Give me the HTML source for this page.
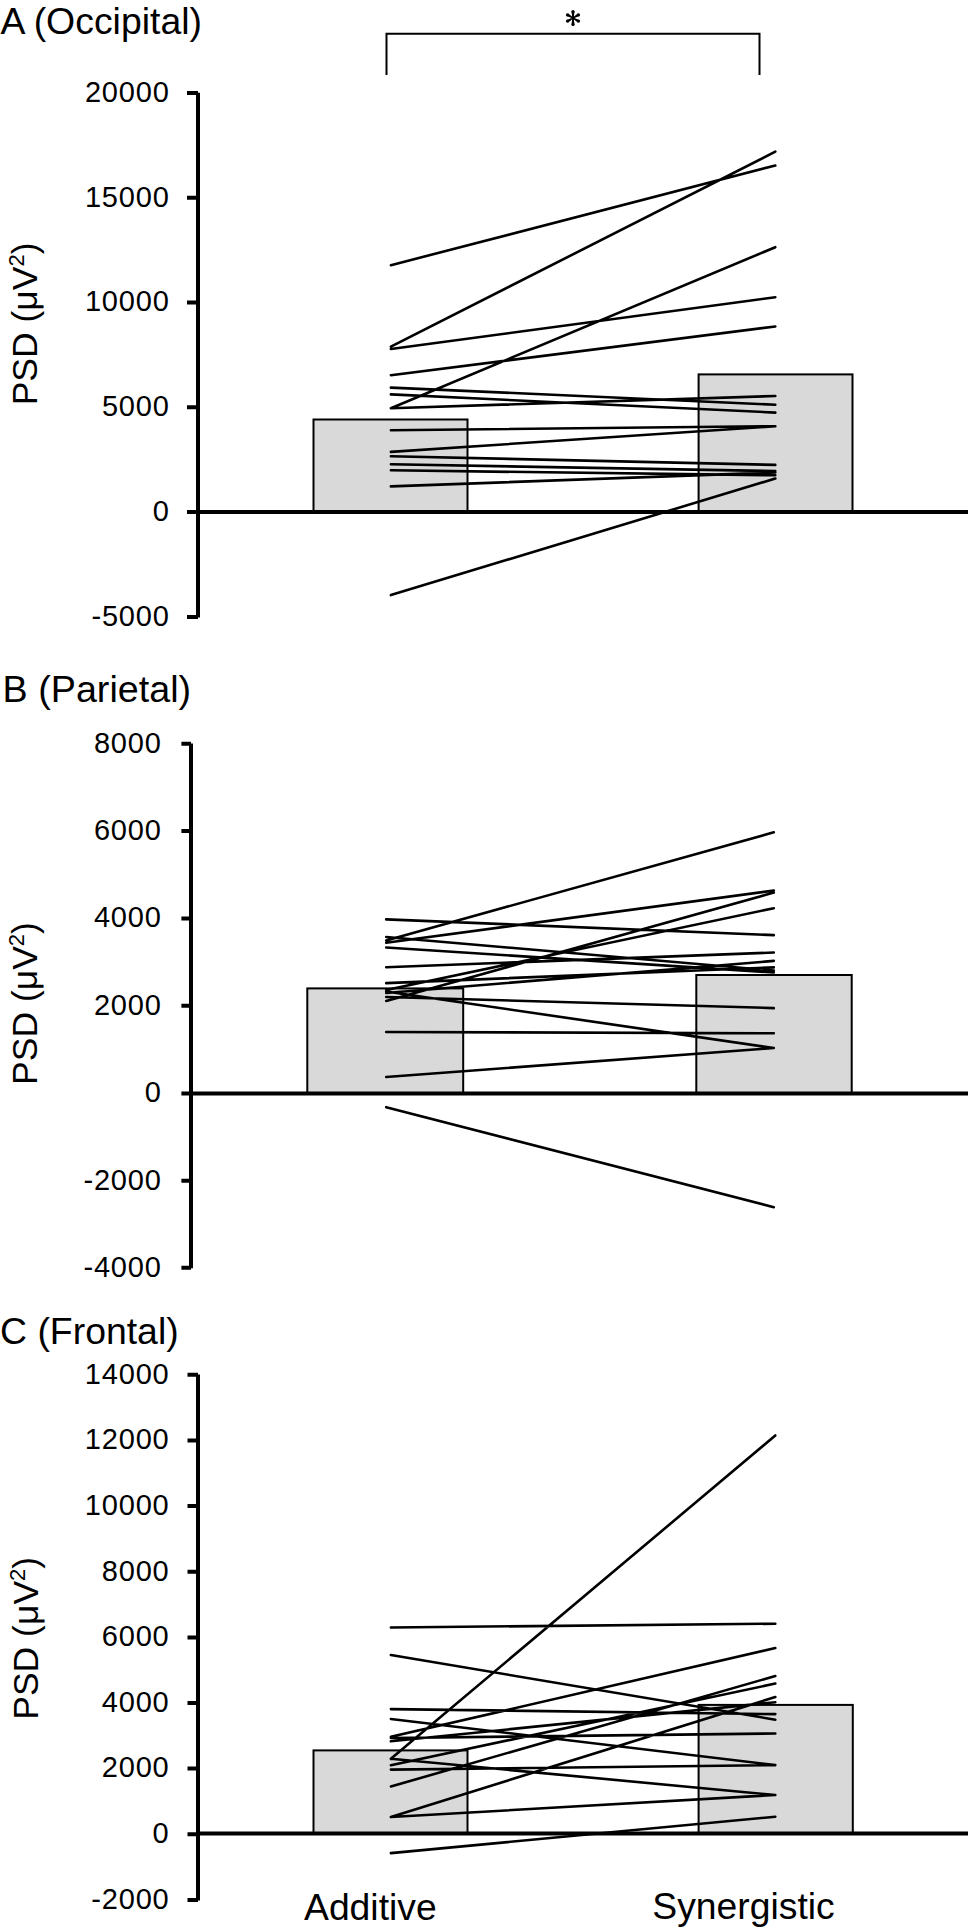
<!DOCTYPE html>
<html><head><meta charset="utf-8"><title>PSD chart</title>
<style>
html,body{margin:0;padding:0;background:#fff;}
body{width:969px;height:1932px;overflow:hidden;}
svg{display:block;}
text{font-family:"Liberation Sans",sans-serif;fill:#000;}
.t{font-size:37.3px;}
.tk{font-size:29px;letter-spacing:0.8px;}
.yt{font-size:35.5px;}
</style></head><body>
<svg width="969" height="1932" viewBox="0 0 969 1932">

<g>
<text class="t" x="0.4" y="34.3" style="font-size:37.4px">A (Occipital)</text>
<rect x="313.5" y="419.5" width="154" height="92.6" fill="#d9d9d9" stroke="#000" stroke-width="2"/>
<rect x="698.6" y="374.4" width="153.9" height="137.7" fill="#d9d9d9" stroke="#000" stroke-width="2"/>
<path d="M390.9 265.2L775.3 165.5M390.9 346.7L775.3 151.7M390.9 349L775.3 297.2M390.9 375.2L775.3 326.5M390.9 408.2L775.3 247.2M390.9 387.6L775.3 404.7M390.9 394.4L775.3 412.6M390.9 408.2L775.3 396M390.9 430.2L775.3 426.2M390.9 451.9L775.3 426.2M390.9 456.2L775.3 464.9M390.9 464.3L775.3 471.1M390.9 470.3L775.3 475.3M390.9 486.4L775.3 472.5M390.9 595.1L775.3 478.5" stroke="#000" stroke-width="2.6" stroke-linecap="round" fill="none"/>
<path d="M198 92.7V617.4" stroke="#000" stroke-width="4" fill="none"/>
<path d="M187 92.9H198M187 197.7H198M187 302.5H198M187 407.3H198M187 512.1H198M187 616.9H198" stroke="#000" stroke-width="4" fill="none"/>
<path d="M198 512.1H968" stroke="#000" stroke-width="4" fill="none"/>
<text class="tk" x="169.6" y="101.7" text-anchor="end">20000</text>
<text class="tk" x="169.6" y="206.5" text-anchor="end">15000</text>
<text class="tk" x="169.6" y="311.3" text-anchor="end">10000</text>
<text class="tk" x="169.6" y="416.1" text-anchor="end">5000</text>
<text class="tk" x="169.6" y="520.9" text-anchor="end">0</text>
<text class="tk" x="169.6" y="625.7" text-anchor="end">-5000</text>
<text class="yt" transform="translate(36.8 323.9) rotate(-90)" text-anchor="middle">PSD (&#956;V<tspan font-size="22" dy="-13">2</tspan><tspan dy="13">)</tspan></text>
</g>
<g>
<text class="t" x="2.6" y="701.9" style="font-size:37.7px">B (Parietal)</text>
<rect x="307.3" y="988.4" width="155.9" height="105.1" fill="#d9d9d9" stroke="#000" stroke-width="2"/>
<rect x="696.3" y="975" width="155.4" height="118.5" fill="#d9d9d9" stroke="#000" stroke-width="2"/>
<path d="M386.2 919.4L773.8 935.1M386.2 937L773.8 970.6M386.2 940.5L773.8 832.3M386.2 942.8L773.8 890.5M386.2 947.5L773.8 972.5M386.2 967.2L773.8 952.5M386.2 983.1L773.8 967.4M386.2 990L773.8 908.2M386.2 991.5L773.8 1048M386.2 993L773.8 960.9M386.2 997L773.8 1008.1M386.2 1001L773.8 892.6M386.2 1032L773.8 1033.3M386.2 1077L773.8 1048M386.2 1107.2L773.8 1207.2" stroke="#000" stroke-width="2.6" stroke-linecap="round" fill="none"/>
<path d="M191 743.6V1268.3" stroke="#000" stroke-width="4" fill="none"/>
<path d="M181.4 743.8H191M181.4 831.1H191M181.4 918.5H191M181.4 1005.8H191M181.4 1093.5H191M181.4 1180.7H191M181.4 1267.8H191" stroke="#000" stroke-width="4" fill="none"/>
<path d="M191 1093.5H968" stroke="#000" stroke-width="4" fill="none"/>
<text class="tk" x="161.6" y="752.6" text-anchor="end">8000</text>
<text class="tk" x="161.6" y="839.9" text-anchor="end">6000</text>
<text class="tk" x="161.6" y="927.3" text-anchor="end">4000</text>
<text class="tk" x="161.6" y="1014.6" text-anchor="end">2000</text>
<text class="tk" x="161.6" y="1102.3" text-anchor="end">0</text>
<text class="tk" x="161.6" y="1189.5" text-anchor="end">-2000</text>
<text class="tk" x="161.6" y="1276.6" text-anchor="end">-4000</text>
<text class="yt" transform="translate(36.7 1003.5) rotate(-90)" text-anchor="middle">PSD (&#956;V<tspan font-size="22" dy="-13">2</tspan><tspan dy="13">)</tspan></text>
</g>
<g>
<text class="t" x="0" y="1344.1" style="font-size:37.4px">C (Frontal)</text>
<rect x="313.5" y="1750.4" width="154" height="83.1" fill="#d9d9d9" stroke="#000" stroke-width="2"/>
<rect x="698.6" y="1704.9" width="154.2" height="128.6" fill="#d9d9d9" stroke="#000" stroke-width="2"/>
<path d="M390.9 1627.5L775.3 1623.7M390.9 1655L775.3 1719.7M390.9 1709.1L775.3 1714.1M390.9 1719L775.3 1765.1M390.9 1736.8L775.3 1648.1M390.9 1738L775.3 1733.5M390.9 1741.3L775.3 1702.2M390.9 1758.8L775.3 1435.5M390.9 1758.8L775.3 1795M390.9 1765.2L775.3 1683.6M390.9 1769.6L775.3 1765.1M390.9 1786.5L775.3 1676M390.9 1817L775.3 1697M390.9 1817L775.3 1795M390.9 1853.1L775.3 1816.7" stroke="#000" stroke-width="2.6" stroke-linecap="round" fill="none"/>
<path d="M198 1374.6V1900.4" stroke="#000" stroke-width="4" fill="none"/>
<path d="M187.5 1374.8H198M187.5 1440.4H198M187.5 1506.1H198M187.5 1571.7H198M187.5 1637.4H198M187.5 1703H198M187.5 1768.6H198M187.5 1834.3H198M187.5 1899.9H198" stroke="#000" stroke-width="4" fill="none"/>
<path d="M198 1833.5H968" stroke="#000" stroke-width="4" fill="none"/>
<text class="tk" x="169.5" y="1383.6" text-anchor="end">14000</text>
<text class="tk" x="169.5" y="1449.2" text-anchor="end">12000</text>
<text class="tk" x="169.5" y="1514.9" text-anchor="end">10000</text>
<text class="tk" x="169.5" y="1580.5" text-anchor="end">8000</text>
<text class="tk" x="169.5" y="1646.2" text-anchor="end">6000</text>
<text class="tk" x="169.5" y="1711.8" text-anchor="end">4000</text>
<text class="tk" x="169.5" y="1777.4" text-anchor="end">2000</text>
<text class="tk" x="169.5" y="1843.1" text-anchor="end">0</text>
<text class="tk" x="169.5" y="1908.7" text-anchor="end">-2000</text>
<text class="yt" transform="translate(37.7 1638.3) rotate(-90)" text-anchor="middle">PSD (&#956;V<tspan font-size="22" dy="-13">2</tspan><tspan dy="13">)</tspan></text>
</g>
<path d="M386.5 75V33.8H759.5V75" stroke="#000" stroke-width="2" fill="none"/>
<g fill="#000"><path d="M573.7 18L574.5 11.5L571.5 11.5L572.3 18ZM572.3 18L571.5 24.5L574.5 24.5L573.7 18ZM573.3 18.6L579.2 16.1L577.8 13.6L572.7 17.4ZM573.3 17.4L568.2 13.6L566.8 16.1L572.7 18.6ZM572.7 18.6L577.8 22.4L579.2 19.9L573.3 17.4ZM572.7 17.4L566.8 19.9L568.2 22.4L573.3 18.6Z"/><circle cx="573" cy="11.5" r="1.6"/><circle cx="573" cy="24.5" r="1.6"/><circle cx="578.5" cy="14.9" r="1.6"/><circle cx="567.5" cy="14.9" r="1.6"/><circle cx="578.5" cy="21.1" r="1.6"/><circle cx="567.5" cy="21.1" r="1.6"/><circle cx="573" cy="18" r="1.1"/></g>
<text class="t" x="304" y="1919.5">Additive</text>
<text class="t" x="652.3" y="1919.4">Synergistic</text>
</svg></body></html>
